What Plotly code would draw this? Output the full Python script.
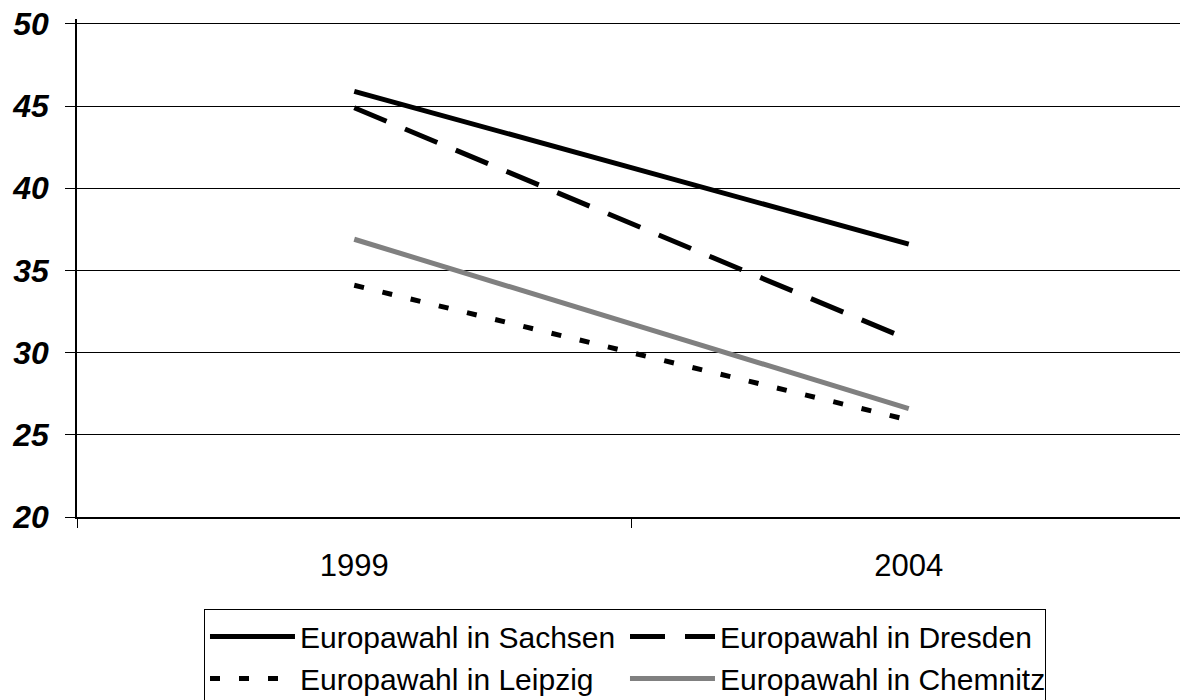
import plotly.graph_objects as go

years = ["1999", "2004"]
sachsen = [45.9, 36.6]
dresden = [44.9, 30.8]
leipzig = [34.1, 25.9]
chemnitz = [36.9, 26.6]
y_ticks = [20, 25, 30, 35, 40, 45, 50]

FONT = "Arial, Liberation Sans, sans-serif"

fig = go.Figure()
fig.add_trace(go.Scatter(x=years, y=sachsen, mode="lines", name="Europawahl in Sachsen",
                         line=dict(color="black", width=5)))
fig.add_trace(go.Scatter(x=years, y=dresden, mode="lines", name="Europawahl in Dresden",
                         line=dict(color="black", width=5, dash="35px,20px")))
fig.add_trace(go.Scatter(x=years, y=leipzig, mode="lines", name="Europawahl in Leipzig",
                         line=dict(color="black", width=5, dash="10px,19px")))
fig.add_trace(go.Scatter(x=years, y=chemnitz, mode="lines", name="Europawahl in Chemnitz",
                         line=dict(color="#808080", width=5)))

# The page body has an 8px default margin, so the figure is sized to compensate.
fig.update_layout(
    width=1180, height=692,
    margin=dict(l=69, r=1.5, t=11.07, b=182.5, autoexpand=False),
    paper_bgcolor="white", plot_bgcolor="white",
    font=dict(family=FONT, size=31, color="black"),
    showlegend=True,
    legend=dict(
        orientation="h", x=0.1145, y=-0.1855, xanchor="left", yanchor="top",
        bordercolor="black", borderwidth=1, bgcolor="white",
        font=dict(family=FONT, size=30, color="black"),
        entrywidth=320, itemwidth=85, tracegroupgap=0,
    ),
    xaxis=dict(
        type="category", range=[-0.5, 1.5], showgrid=False, automargin=False,
        showline=True, linecolor="black", linewidth=2,
        ticks="outside", tickson="boundaries", ticklen=9, tickcolor="black",
        ticklabelstandoff=20,
        tickfont=dict(family=FONT, size=31, color="black"),
    ),
    yaxis=dict(
        range=[20, 50.3], tickvals=y_ticks, ticktext=[f"<b><i>{v}</i></b>" for v in y_ticks],
        showgrid=True, gridcolor="black", gridwidth=1, automargin=False,
        showline=True, linecolor="black", linewidth=1.5,
        ticks="outside", ticklen=10, tickcolor="black",
        ticklabelstandoff=10, zeroline=False, ticklabeloverflow="allow",
        tickfont=dict(family=FONT, size=32, color="black"),
    ),
)

fig.write_html("out.html")
